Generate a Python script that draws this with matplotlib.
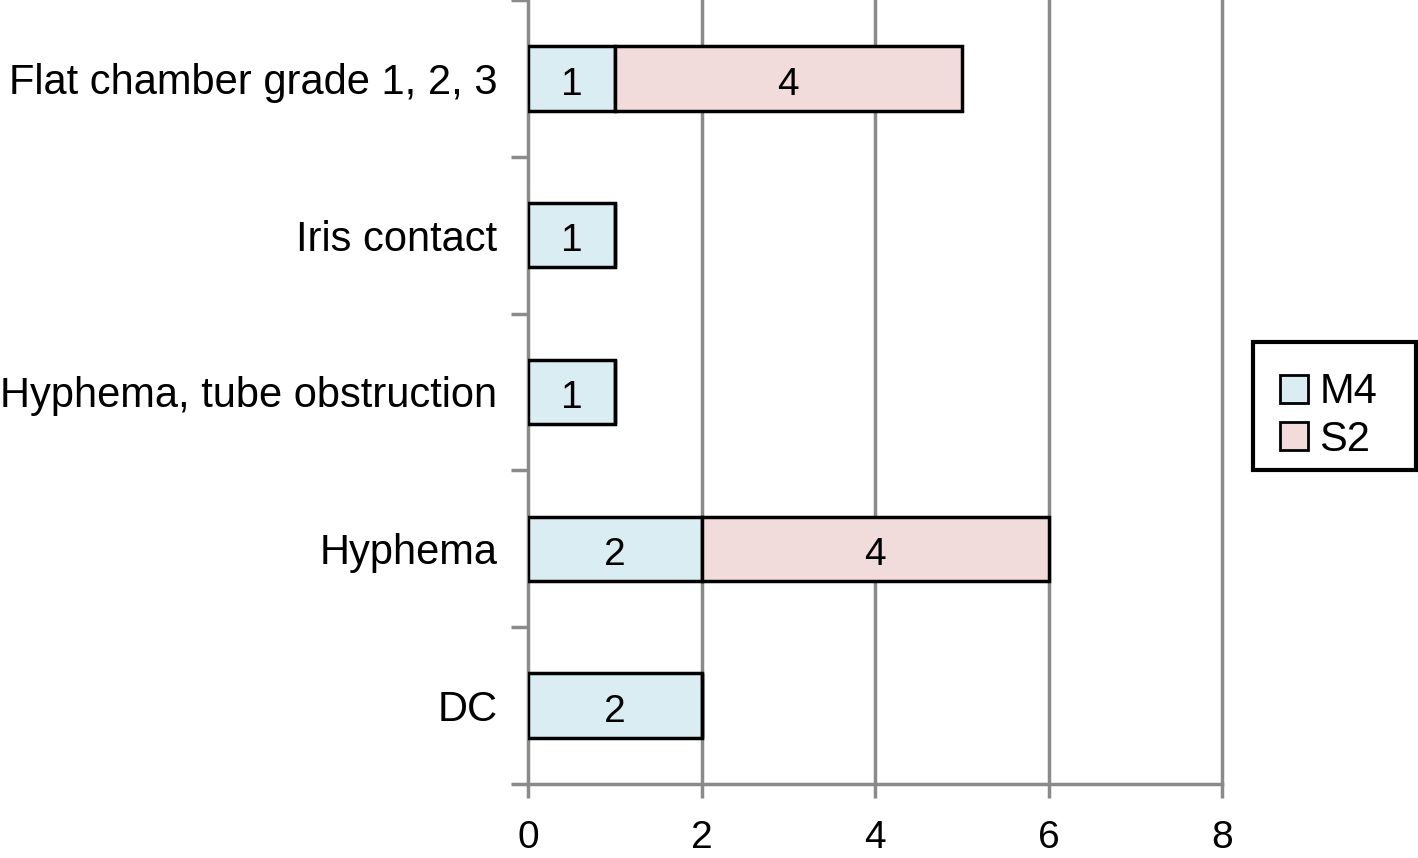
import numpy as np
import matplotlib
matplotlib.use("Agg")
import matplotlib.pyplot as plt
from matplotlib.patches import Patch, Rectangle

plt.rcParams['font.family'] = ['Liberation Sans', 'DejaVu Sans']

# data (top to bottom)
categories = ['Flat chamber grade 1, 2, 3', 'Iris contact', 'Hyphema, tube obstruction', 'Hyphema', 'DC']
m4_values = [1, 1, 1, 2, 2]
s2_values = [4, 0, 0, 4, 0]
series_names = ['M4', 'S2']
x_ticks = [0, 2, 4, 6, 8]

blue = '#daedf3'
pink = '#f2dcdb'
grey = '#8a8a8a'

W, H = 1418, 858
fig = plt.figure(figsize=(W / 100, H / 100), dpi=100)
ax = fig.add_axes([528 / W, 1 - 784 / H, (1222 - 528) / W, 784 / H])

y = np.arange(len(categories))
h = 0.41
ax.barh(y, m4_values, height=h, color=blue, edgecolor='black', linewidth=2.5, zorder=3)
ax.barh(y, s2_values, left=m4_values, height=h, color=pink, edgecolor='black', linewidth=2.5, zorder=3)

# value labels, nudged a little below the bar centre like the original
for i in range(len(categories)):
    ax.text(m4_values[i] / 2, y[i] + 0.04, str(m4_values[i]), ha='center', va='center',
            fontsize=28, zorder=4)
    if s2_values[i] > 0:
        ax.text(m4_values[i] + s2_values[i] / 2, y[i] + 0.04, str(s2_values[i]),
                ha='center', va='center', fontsize=28, zorder=4)

ax.set_xlim(0, 8)
ax.set_ylim(len(categories) - 0.5, -0.5)
ax.set_xticks(x_ticks)
ax.set_xticklabels([str(t) for t in x_ticks], fontsize=28)

# category labels at centres, ticks at boundaries
ax.set_yticks(y)
ax.set_yticklabels(categories, fontsize=30)
ax.tick_params(axis='y', which='major', length=0, pad=22)
ax.set_yticks(np.arange(-0.5, len(categories)), minor=True)
ax.tick_params(axis='y', which='minor', length=12, width=2.5, color=grey)
ax.tick_params(axis='x', which='major', length=10, width=2.5, color=grey, pad=16)

for t in x_ticks[1:]:
    ax.axvline(t, color=grey, linewidth=2.5, zorder=0, clip_on=False)
for s in ['top', 'right']:
    ax.spines[s].set_visible(False)
for s in ['left', 'bottom']:
    ax.spines[s].set_color(grey)
    ax.spines[s].set_linewidth(2.5)

# legend without its own frame, box drawn separately (wider right padding in original)
handles = [Patch(facecolor=blue, edgecolor='black', linewidth=2),
           Patch(facecolor=pink, edgecolor='black', linewidth=2)]
fig.legend(handles, series_names, loc='center left', bbox_to_anchor=(1280 / W, 1 - 416 / H),
           fontsize=30, frameon=False, handlelength=0.67, handleheight=0.65,
           handletextpad=0.28, borderpad=0, borderaxespad=0, labelspacing=0.17)
fig.add_artist(Rectangle((1253 / W, 1 - 470 / H), 163 / W, 128 / H, transform=fig.transFigure,
                         fill=False, edgecolor='black', linewidth=3))

fig.savefig('out.png', dpi=100)
